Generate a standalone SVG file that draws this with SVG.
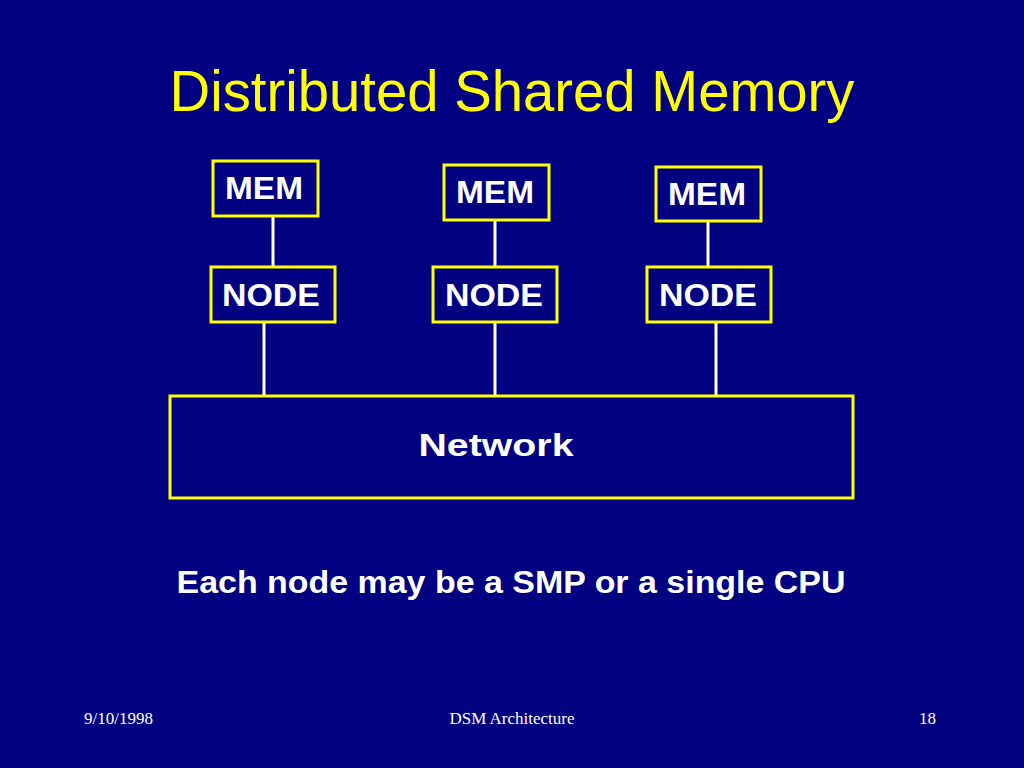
<svg xmlns="http://www.w3.org/2000/svg" width="1024" height="768" viewBox="0 0 1024 768">
<style>
.box{fill:none;stroke:#FFFF00;stroke-width:3}
.lbl{font-family:"Liberation Sans",Arial,sans-serif;fill:#fff;font-size:31px;font-weight:bold;text-anchor:middle}
.ln{stroke:#fff;stroke-width:3}
.ft{font-family:"Liberation Serif","Times New Roman",serif;fill:#fff;font-size:17px}
</style>
<rect width="1024" height="768" fill="#000080"/>
<text x="512" y="111" text-anchor="middle" font-family="Liberation Sans,Arial,sans-serif" font-size="57" fill="#FFFF00" textLength="685" lengthAdjust="spacingAndGlyphs">Distributed Shared Memory</text>
<g id="connectors">
<line class="ln" x1="273" y1="216" x2="273" y2="267"/>
<line class="ln" x1="495" y1="220" x2="495" y2="267"/>
<line class="ln" x1="708" y1="221" x2="708" y2="267"/>
<line class="ln" x1="264" y1="322" x2="264" y2="396"/>
<line class="ln" x1="495" y1="322" x2="495" y2="396"/>
<line class="ln" x1="716" y1="322" x2="716" y2="396"/>
</g>
<g id="mem1"><rect class="box" x="213" y="161" width="105" height="55"/><text class="lbl" x="264" y="199" textLength="78" lengthAdjust="spacingAndGlyphs">MEM</text></g>
<g id="mem2"><rect class="box" x="444" y="165" width="105" height="55"/><text class="lbl" x="495" y="203" textLength="78" lengthAdjust="spacingAndGlyphs">MEM</text></g>
<g id="mem3"><rect class="box" x="656" y="167" width="105" height="54"/><text class="lbl" x="707" y="205" textLength="78" lengthAdjust="spacingAndGlyphs">MEM</text></g>
<g id="node1"><rect class="box" x="211" y="267" width="124" height="55"/><text class="lbl" x="271" y="306" textLength="98" lengthAdjust="spacingAndGlyphs">NODE</text></g>
<g id="node2"><rect class="box" x="433" y="267" width="124" height="55"/><text class="lbl" x="494" y="306" textLength="98" lengthAdjust="spacingAndGlyphs">NODE</text></g>
<g id="node3"><rect class="box" x="647" y="267" width="124" height="55"/><text class="lbl" x="708" y="306" textLength="98" lengthAdjust="spacingAndGlyphs">NODE</text></g>
<g id="network"><rect class="box" x="170" y="396" width="683" height="102"/><text class="lbl" x="496" y="456" font-size="40" textLength="155" lengthAdjust="spacingAndGlyphs">Network</text></g>
<text class="lbl" x="511" y="593" font-size="33" textLength="669" lengthAdjust="spacingAndGlyphs">Each node may be a SMP or a single CPU</text>
<text class="ft" x="84" y="724">9/10/1998</text>
<text class="ft" x="512" y="724" text-anchor="middle">DSM Architecture</text>
<text class="ft" x="936" y="724" text-anchor="end">18</text>
</svg>
